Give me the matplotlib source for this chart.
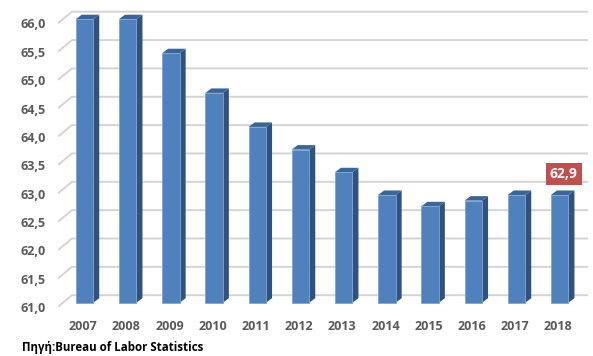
import matplotlib
matplotlib.use('Agg')
from matplotlib import pyplot as plt
from matplotlib.patches import Polygon, Rectangle
import numpy as np

years = ['2007', '2008', '2009', '2010', '2011', '2012',
         '2013', '2014', '2015', '2016', '2017', '2018']
values = [66.0, 66.0, 65.4, 64.7, 64.1, 63.7, 63.3, 62.9, 62.7, 62.8, 62.9, 62.9]
y_ticks = [61.0, 61.5, 62.0, 62.5, 63.0, 63.5, 64.0, 64.5, 65.0, 65.5, 66.0]
highlight_label = '62,9'
source = 'Πηγή:Bureau of Labor Statistics'

W, H = 593, 356
plt.rcParams['font.family'] = ['Open Sans', 'DejaVu Sans']
fig = plt.figure(figsize=(W / 100, H / 100), dpi=100)

# axes placed in pixel terms
px_left, px_right, px_bottom, px_top = 58, 588, 310, 5
ax = fig.add_axes([px_left / W, 1 - px_bottom / H,
                   (px_right - px_left) / W, (px_bottom - px_top) / H])
x0 = 84.5
step = 43.2
unit = 56.7
base_px = 302.7
xmin = (px_left - x0) / step
xmax = (px_right - x0) / step
ymin = 61 - (px_bottom - base_px) / unit
ymax = 61 + (base_px - px_top) / unit
ax.set_xlim(xmin, xmax)
ax.set_ylim(ymin, ymax)
ax.axis('off')

dxp = 1 / step   # one pixel in x data units
dyp = 1 / unit   # one pixel in y data units

# back wall gridlines with floor diagonal
for v in y_ticks:
    ax.plot([xmin, xmin + 14 * dxp, xmax],
            [v - 4 * dyp, v + 7.5 * dyp, v + 7.5 * dyp],
            color='#D4D4D4', lw=1.4, zorder=1, solid_capstyle='butt')
    ax.text(xmin - 12 * dxp, v - 5.8 * dyp, '{:.1f}'.format(v).replace('.', ','),
            ha='right', va='center', fontsize=9, fontweight='bold',
            color='#595959')

# 3d-looking bars
bw = 17.5 * dxp
sdx = 6 * dxp
sdy = 4.5 * dyp
base = 61.0
for i, v in enumerate(values):
    l = i - bw / 2
    r = i + bw / 2
    side = Polygon([(r, base), (r + sdx, base + sdy), (r + sdx, v + sdy), (r, v)],
                   closed=True, fc='#2F5281', ec='none', zorder=3)
    top = Polygon([(l, v), (r, v), (r + sdx, v + sdy), (l + sdx, v + sdy)],
                  closed=True, fc='#3A6598', ec='none', zorder=3)
    front = Rectangle((l, base), bw, v - base, fc='#4F81BD', ec='#7FA3D3',
                      lw=0.6, zorder=4)
    ax.add_patch(side)
    ax.add_patch(top)
    ax.add_patch(front)
    ax.text(i - 1.5 * dxp, ymin - 17 * dyp, years[i], ha='center', va='center',
            fontsize=9, fontweight='bold', color='#595959', clip_on=False)

# highlighted value label on last bar
last = len(values) - 1
ax.text(last + 4 * dxp, values[last] + 21 * dyp, highlight_label,
        ha='center', va='center', fontsize=10, fontweight='bold', color='white',
        bbox=dict(boxstyle='square,pad=0.3', fc='#C0504D', ec='none'),
        zorder=6)

fig.text(22 / W, 1 - 347 / H, source, ha='left', va='center',
         fontsize=8.3, fontweight='bold', color='black')

fig.savefig('out.png', dpi=100)
